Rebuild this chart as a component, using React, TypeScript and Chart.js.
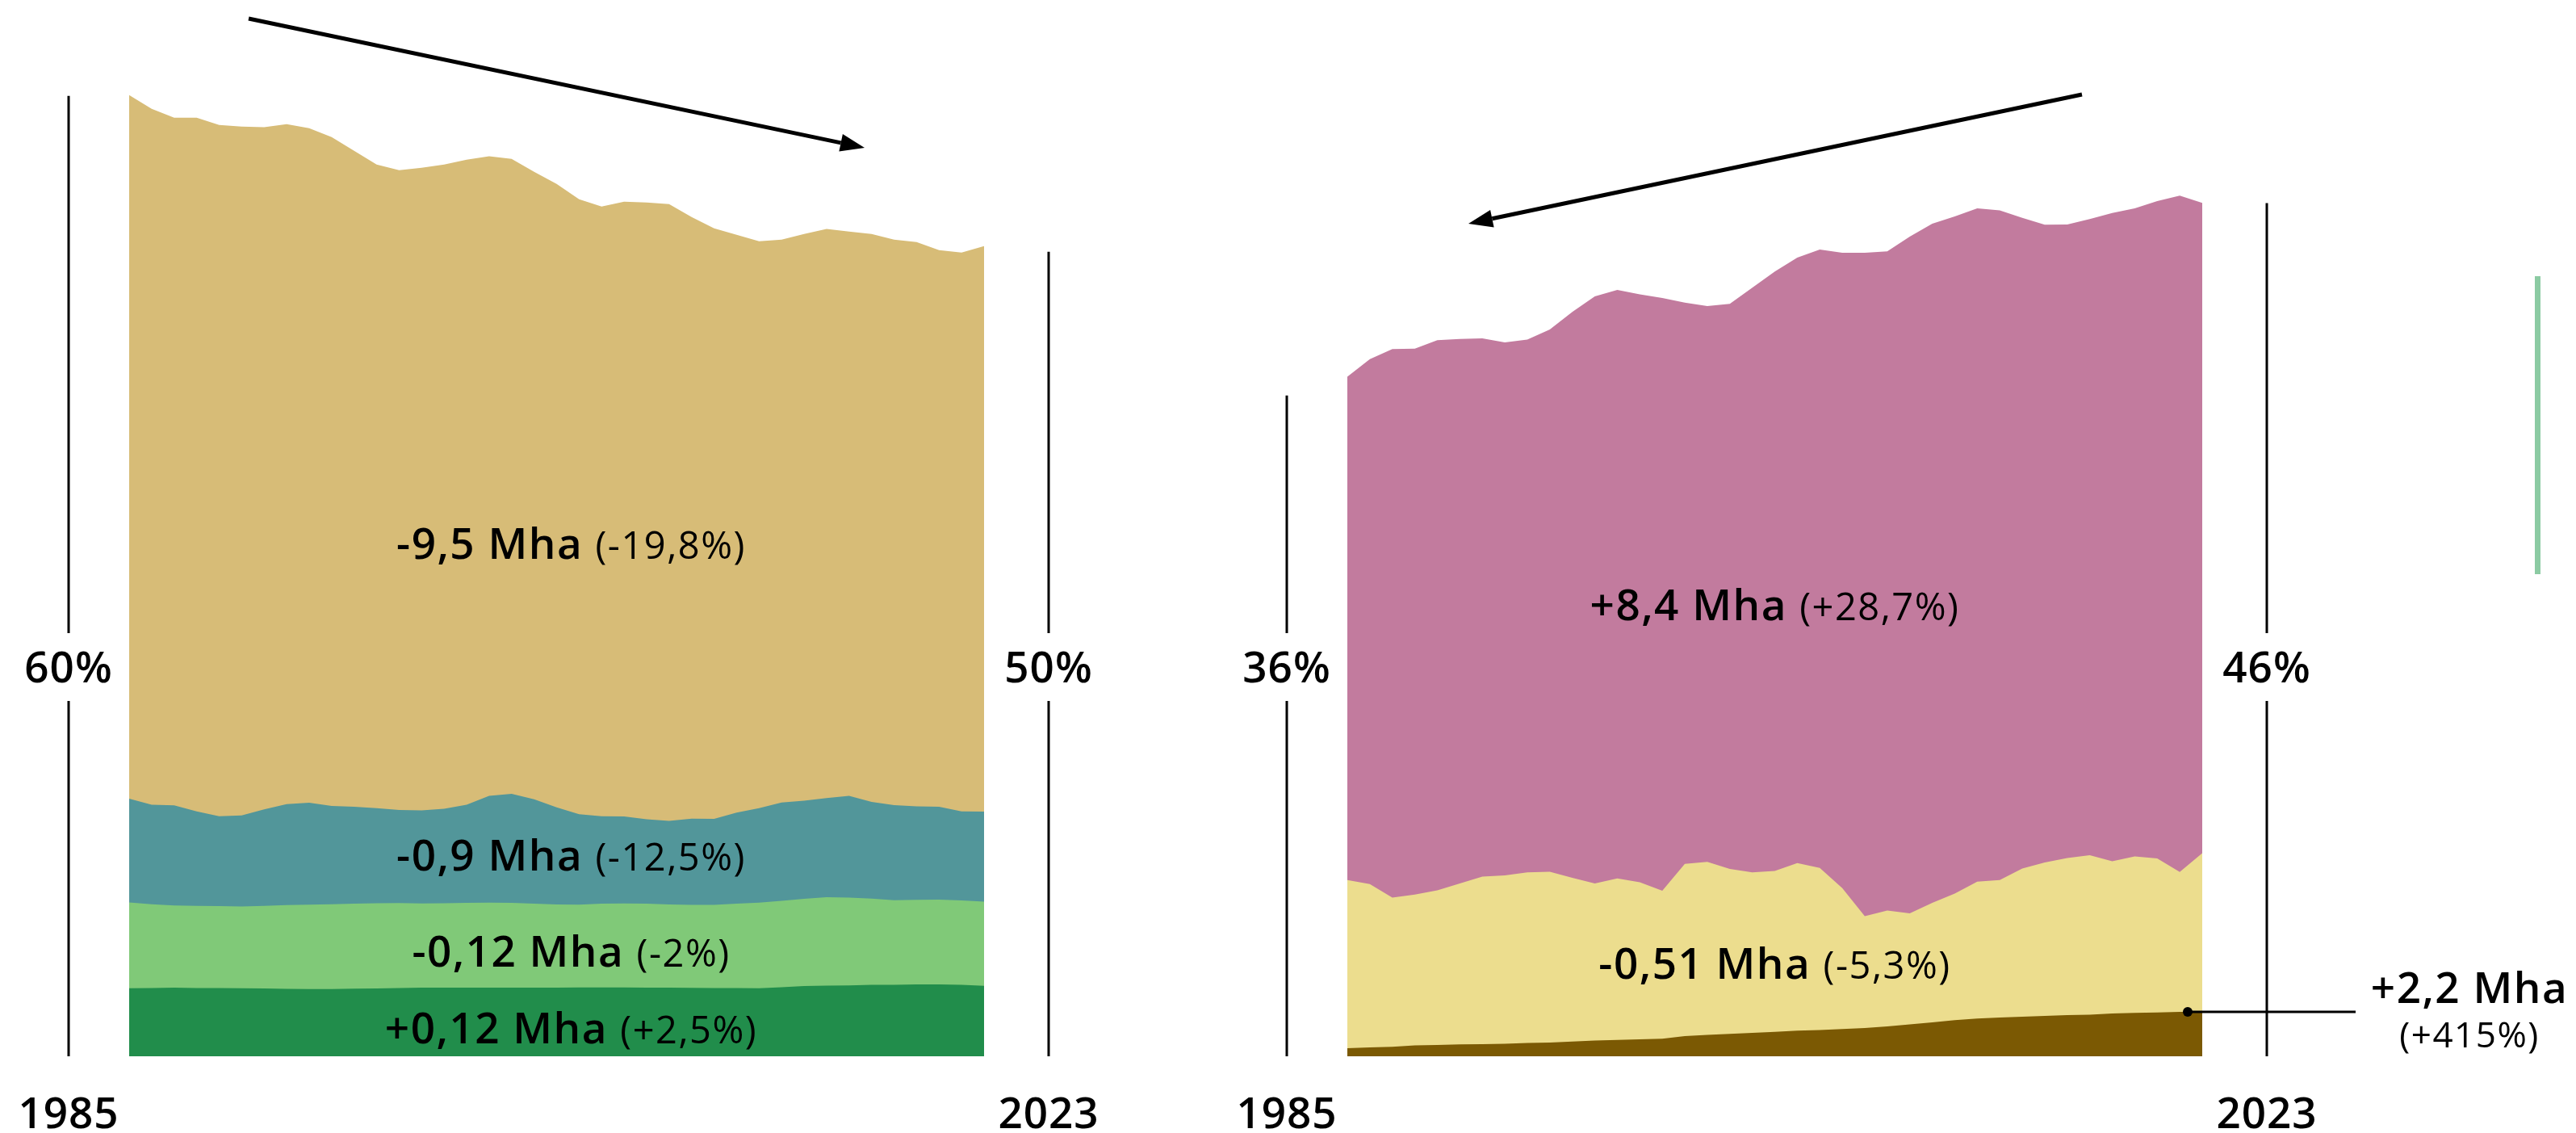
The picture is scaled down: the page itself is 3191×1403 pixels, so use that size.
import { useEffect, useRef } from "react";
import { Chart, registerables } from "chart.js";

Chart.register(...registerables);

const W = 3191;
const H = 1403;
const FONT = "'Open Sans', Inter, sans-serif";

// categories
const years: string[] = [];
for (let y = 1985; y <= 2023; y++) years.push(String(y));

// ---- left panel series (Mha) ----
const leftDarkGreen = [4.68, 4.70, 4.72, 4.70, 4.69, 4.68, 4.66, 4.64, 4.63, 4.63, 4.65, 4.67, 4.69, 4.72, 4.72, 4.72, 4.72, 4.72, 4.72, 4.72, 4.73, 4.74, 4.73, 4.72, 4.72, 4.71, 4.70, 4.69, 4.68, 4.75, 4.84, 4.86, 4.88, 4.91, 4.92, 4.94, 4.95, 4.92, 4.85];
const leftLightGreen = [5.91, 5.76, 5.65, 5.65, 5.64, 5.63, 5.69, 5.76, 5.80, 5.83, 5.85, 5.86, 5.85, 5.80, 5.81, 5.83, 5.85, 5.83, 5.78, 5.73, 5.70, 5.76, 5.79, 5.78, 5.73, 5.70, 5.72, 5.81, 5.89, 5.95, 6.00, 6.08, 6.03, 5.94, 5.82, 5.82, 5.83, 5.80, 5.79];
const leftTeal = [7.13, 6.85, 6.89, 6.50, 6.19, 6.26, 6.63, 6.95, 7.01, 6.76, 6.67, 6.54, 6.40, 6.39, 6.50, 6.76, 7.34, 7.51, 7.18, 6.68, 6.22, 6.02, 5.98, 5.80, 5.75, 5.94, 5.91, 6.26, 6.50, 6.76, 6.75, 6.82, 7.00, 6.65, 6.54, 6.44, 6.39, 6.13, 6.19];
const leftTan = [48.41, 47.87, 47.31, 47.72, 47.55, 47.39, 46.93, 46.78, 46.41, 46.02, 45.12, 44.28, 44.02, 44.22, 44.32, 44.37, 44.00, 43.68, 43.17, 42.89, 42.31, 41.94, 42.29, 42.44, 42.43, 41.39, 40.63, 39.76, 39.00, 38.72, 38.98, 39.15, 38.83, 39.07, 38.90, 38.82, 38.29, 38.44, 38.91];

// ---- right panel series (Mha) ----
const rightBrown = [0.47, 0.52, 0.55, 0.63, 0.66, 0.69, 0.71, 0.73, 0.77, 0.80, 0.86, 0.92, 0.95, 0.99, 1.02, 1.17, 1.24, 1.30, 1.36, 1.42, 1.49, 1.53, 1.58, 1.64, 1.74, 1.86, 1.97, 2.10, 2.19, 2.25, 2.30, 2.35, 2.39, 2.42, 2.49, 2.52, 2.55, 2.58, 2.58];
const rightYellow = [9.78, 9.49, 8.68, 8.77, 8.99, 9.36, 9.74, 9.79, 9.92, 9.93, 9.52, 9.13, 9.39, 9.13, 8.60, 10.02, 10.06, 9.59, 9.33, 9.36, 9.74, 9.42, 8.20, 6.50, 6.74, 6.45, 6.95, 7.36, 7.96, 8.00, 8.61, 8.92, 9.14, 9.27, 8.85, 9.10, 8.95, 8.14, 9.23];
const rightPink = [29.26, 30.52, 31.88, 31.74, 31.98, 31.65, 31.29, 30.98, 30.98, 31.52, 32.89, 34.13, 34.21, 34.17, 34.46, 32.63, 32.32, 32.85, 33.99, 34.84, 35.20, 35.95, 36.93, 38.57, 38.31, 39.34, 39.48, 39.37, 39.15, 38.93, 37.84, 37.07, 36.83, 36.98, 37.69, 37.68, 38.22, 39.31, 37.80];

// share markers (start / end)
const leftShareLabels = ["60%", "50%"];
const leftShareTops = [66.07, 55.35];
const rightShareLabels = ["36%", "46%"];
const rightShareTops = [38.42, 49.6];

// band labels
const leftBandMain = ["-9,5 Mha", "-0,9 Mha", "-0,12 Mha", "+0,12 Mha"];
const leftBandSub = ["(-19,8%)", "(-12,5%)", "(-2%)", "(+2,5%)"];
const leftBandAt = [34.2, 12.78, 6.17, 0.89];
const rightBandMain = ["+8,4 Mha", "-0,51 Mha"];
const rightBandSub = ["(+28,7%)", "(-5,3%)"];
const rightBandAt = [25.35, 4.51];
const calloutMain = "+2,2 Mha";
const calloutSub = "(+415%)";

type Panel = {
  series: { values: number[]; color: string }[];
  left: number;
  right: number;
  bottom: number;
  yMax: number;
  shareLabels: string[];
  shareTops: number[];
  bandMain: string[];
  bandSub: string[];
  bandAt: number[];
  labelShift: number;
  extra?: (ctx: CanvasRenderingContext2D, chart: any) => void;
};

const MAIN_FONT = `600 53px ${FONT}`;
const SUB_FONT = `500 47px ${FONT}`;
const AXIS_FONT = `600 53px ${FONT}`;

function setSpacing(ctx: CanvasRenderingContext2D, px: number) {
  (ctx as any).letterSpacing = `${px}px`;
}

function drawMixed(ctx: CanvasRenderingContext2D, cx: number, baseline: number, main: string, sub: string) {
  setSpacing(ctx, 1.5);
  ctx.font = MAIN_FONT;
  const w1 = ctx.measureText(main + " ").width;
  ctx.font = SUB_FONT;
  const w2 = ctx.measureText(sub).width;
  const x0 = cx - (w1 + w2) / 2;
  ctx.textAlign = "left";
  ctx.textBaseline = "alphabetic";
  ctx.fillStyle = "#000";
  ctx.font = MAIN_FONT;
  ctx.fillText(main + " ", x0, baseline);
  ctx.font = SUB_FONT;
  ctx.fillText(sub, x0 + w1, baseline);
  setSpacing(ctx, 0);
}

function drawArrow(ctx: CanvasRenderingContext2D, x1: number, y1: number, x2: number, y2: number) {
  const ang = Math.atan2(y2 - y1, x2 - x1);
  const len = 30;
  const half = 11;
  const bx = x2 - len * Math.cos(ang);
  const by = y2 - len * Math.sin(ang);
  ctx.save();
  ctx.strokeStyle = "#000";
  ctx.fillStyle = "#000";
  ctx.lineWidth = 5;
  ctx.beginPath();
  ctx.moveTo(x1, y1);
  ctx.lineTo(bx, by);
  ctx.stroke();
  ctx.beginPath();
  ctx.moveTo(x2, y2);
  ctx.lineTo(bx + half * Math.sin(ang), by - half * Math.cos(ang));
  ctx.lineTo(bx - half * Math.sin(ang), by + half * Math.cos(ang));
  ctx.closePath();
  ctx.fill();
  ctx.restore();
}

function decorPlugin(panel: Panel) {
  return {
    id: "decor",
    afterDraw(chart: any) {
      const ctx: CanvasRenderingContext2D = chart.ctx;
      const area = chart.chartArea;
      const ys = chart.scales.y;
      const bottom = area.bottom;
      const shareY = 826;
      const gap = 42;
      const xs = [area.left - 75, area.right + 80];
      ctx.save();
      xs.forEach((x, k) => {
        const top = ys.getPixelForValue(panel.shareTops[k]);
        ctx.strokeStyle = "#000";
        ctx.lineWidth = 3;
        ctx.beginPath();
        ctx.moveTo(x, top);
        ctx.lineTo(x, shareY - gap);
        ctx.moveTo(x, shareY + gap);
        ctx.lineTo(x, bottom);
        ctx.stroke();
        ctx.fillStyle = "#000";
        ctx.textAlign = "center";
        ctx.textBaseline = "alphabetic";
        ctx.font = AXIS_FONT;
        setSpacing(ctx, 1);
        ctx.fillText(panel.shareLabels[k], x, shareY + 19);
        ctx.fillText(years[k === 0 ? 0 : years.length - 1], x, 1397);
        setSpacing(ctx, 0);
      });
      const cx = (area.left + area.right) / 2 + panel.labelShift;
      panel.bandMain.forEach((m, k) => {
        drawMixed(ctx, cx, ys.getPixelForValue(panel.bandAt[k]), m, panel.bandSub[k]);
      });
      if (panel.extra) panel.extra(ctx, chart);
      ctx.restore();
    },
  };
}

function makeConfig(panel: Panel): any {
  return {
    type: "line",
    data: {
      labels: years,
      datasets: panel.series.map((s) => ({
        data: s.values,
        backgroundColor: s.color,
        borderColor: "rgba(0,0,0,0)",
        borderWidth: 0,
        pointRadius: 0,
        pointHoverRadius: 0,
        fill: "origin",
        tension: 0,
      })),
    },
    options: {
      responsive: false,
      animation: false,
      events: [],
      layout: { padding: { left: panel.left, right: W - panel.right, top: 0, bottom: H - panel.bottom } },
      plugins: { legend: { display: false }, tooltip: { enabled: false }, title: { display: false } },
      scales: {
        x: { display: false, offset: false },
        y: { display: false, stacked: true, min: 0, max: panel.yMax },
      },
    },
    plugins: [decorPlugin(panel)],
  };
}

const leftPanel: Panel = {
  series: [
    { values: leftDarkGreen, color: "#218d4b" },
    { values: leftLightGreen, color: "#80c978" },
    { values: leftTeal, color: "#52969a" },
    { values: leftTan, color: "#d7bc77" },
  ],
  left: 160,
  right: 1219,
  bottom: 1308,
  yMax: 1308 / 18,
  shareLabels: leftShareLabels,
  shareTops: leftShareTops,
  bandMain: leftBandMain,
  bandSub: leftBandSub,
  bandAt: leftBandAt,
  labelShift: 18,
  extra: (ctx) => {
    drawArrow(ctx, 308, 23, 1071, 183);
  },
};

const rightPanel: Panel = {
  series: [
    { values: rightBrown, color: "#7b5903" },
    { values: rightYellow, color: "#ecdd8e" },
    { values: rightPink, color: "#c27b9e" },
  ],
  left: 1669,
  right: 2728,
  bottom: 1308,
  yMax: 1308 / 21.3,
  shareLabels: rightShareLabels,
  shareTops: rightShareTops,
  bandMain: rightBandMain,
  bandSub: rightBandSub,
  bandAt: rightBandAt,
  labelShift: 0,
  extra: (ctx, chart) => {
    drawArrow(ctx, 2579, 117, 1819, 277);
    const ys = chart.scales.y;
    const last = rightBrown[rightBrown.length - 1];
    const dy = ys.getPixelForValue(last);
    const dx = chart.chartArea.right - 18;
    ctx.fillStyle = "#000";
    ctx.strokeStyle = "#000";
    ctx.lineWidth = 3;
    ctx.beginPath();
    ctx.moveTo(dx, dy);
    ctx.lineTo(2918, dy);
    ctx.stroke();
    ctx.beginPath();
    ctx.arc(dx, dy, 6, 0, Math.PI * 2);
    ctx.fill();
    ctx.textAlign = "center";
    ctx.textBaseline = "alphabetic";
    setSpacing(ctx, 1.5);
    ctx.font = MAIN_FONT;
    ctx.fillText(calloutMain, 3059, 1242);
    ctx.font = `500 44px ${FONT}`;
    ctx.fillText(calloutSub, 3059, 1297);
    setSpacing(ctx, 0);
    ctx.fillStyle = "#8ccba3";
    ctx.fillRect(3140, 342, 7, 369);
  },
};

export default function App() {
  const leftRef = useRef<HTMLCanvasElement>(null);
  const rightRef = useRef<HTMLCanvasElement>(null);
  useEffect(() => {
    const c1 = new Chart(leftRef.current as HTMLCanvasElement, makeConfig(leftPanel));
    const c2 = new Chart(rightRef.current as HTMLCanvasElement, makeConfig(rightPanel));
    let alive = true;
    const fonts = (document as any).fonts;
    if (fonts && fonts.load) {
      Promise.all([fonts.load(MAIN_FONT), fonts.load(SUB_FONT)])
        .then(() => {
          if (alive) {
            c1.draw();
            c2.draw();
          }
        })
        .catch(() => {});
    }
    return () => {
      alive = false;
      c1.destroy();
      c2.destroy();
    };
  }, []);
  const cs: any = { position: "absolute", left: 0, top: 0, width: W, height: H };
  return (
    <div style={{ position: "absolute", left: 0, top: 0, width: W, height: H, background: "#fff", overflow: "hidden" }}>
      <canvas ref={leftRef} width={W} height={H} style={cs} />
      <canvas ref={rightRef} width={W} height={H} style={cs} />
    </div>
  );
}
